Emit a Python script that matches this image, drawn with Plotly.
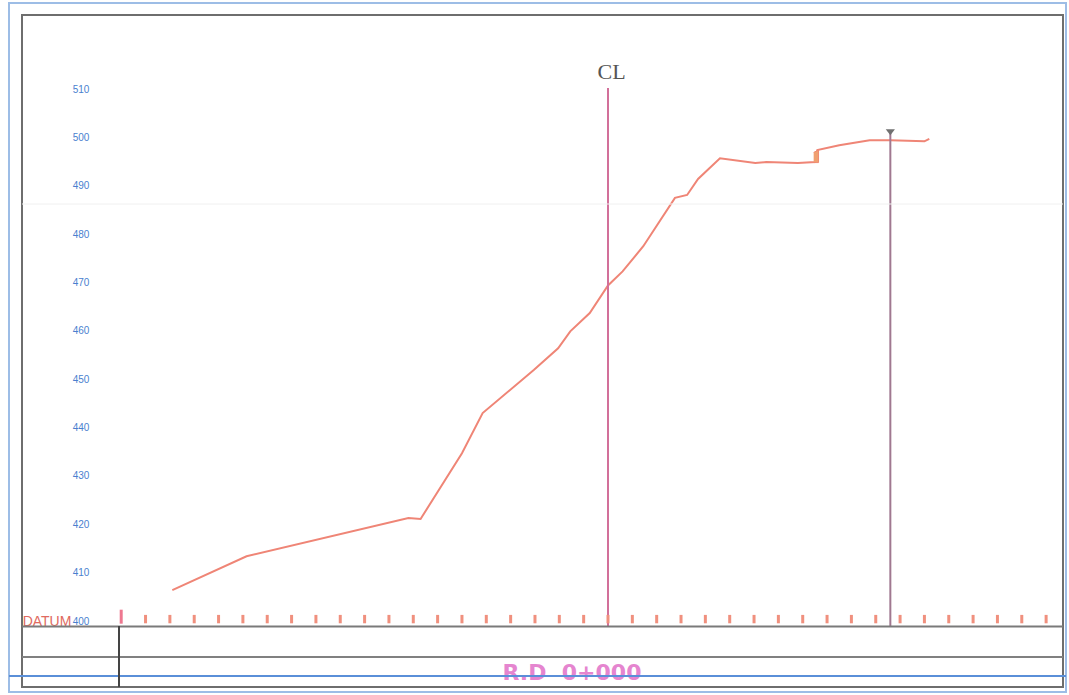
import plotly.graph_objects as go

# ---- data (offset in m from centre line, elevation in m) ----
profile_offset = [-35.8, -29.7, -16.4, -15.4, -12.0, -10.3, -6.1, -4.1, -3.1, -1.5, 0.0,
                  1.2, 2.9, 4.4, 5.5, 6.5, 7.4, 9.2, 12.1, 13.0, 15.6, 17.0, 17.2,
                  19.0, 21.5, 23.2, 26.0, 26.4]
profile_elev = [406.6, 413.6, 421.5, 421.3, 434.9, 443.2, 452.1, 456.6, 460.1, 463.9, 469.6,
                472.5, 477.7, 483.5, 487.7, 488.3, 491.6, 495.9, 494.9, 495.1, 494.9, 495.1, 497.6,
                498.6, 499.6, 499.6, 499.4, 499.9]

step_offset = [16.9, 17.3, 17.3, 16.9]
step_elev = [495.0, 495.0, 497.6, 497.1]

tick_offsets = list(range(-40, 37, 2))
datum_elev = 400
y_tick_values = [400, 410, 420, 430, 440, 450, 460, 470, 480, 490, 500, 510]

cl_offset = 0.0
cl_top = 510.4
wl_offset = 23.2
wl_elev = 501.1
chainage_label = "R.D  0+000"

W, H = 1069, 695
# pixel mapping of the drawing (full-bleed plot area)
PX_PER_M = 12.17
CL_PX = 608
PX_PER_EL = 4.836
DATUM_PY = 622

x_range = [(0 - CL_PX) / PX_PER_M, (W - CL_PX) / PX_PER_M]
y_range = [datum_elev - (H - DATUM_PY) / PX_PER_EL, datum_elev + DATUM_PY / PX_PER_EL]


def xd(px):
    return (px - CL_PX) / PX_PER_M


def yd(py):
    return datum_elev + (DATUM_PY - py) / PX_PER_EL


fig = go.Figure()

# profile line
fig.add_trace(go.Scatter(x=profile_offset, y=profile_elev, mode="lines",
                         line=dict(color="#ef8576", width=2), hoverinfo="skip"))
fig.add_trace(go.Scatter(x=step_offset, y=step_elev, mode="lines", fill="toself",
                         fillcolor="#f0a070", line=dict(color="#ef8a70", width=1),
                         hoverinfo="skip"))

# centre line and water level line
fig.add_trace(go.Scatter(x=[cl_offset, cl_offset], y=[yd(626), cl_top], mode="lines",
                         line=dict(color="#d2709a", width=2), hoverinfo="skip"))
fig.add_trace(go.Scatter(x=[wl_offset, wl_offset], y=[yd(626), wl_elev], mode="lines",
                         line=dict(color="#a07890", width=2), hoverinfo="skip"))
fig.add_trace(go.Scatter(x=[wl_offset], y=[wl_elev + 0.4], mode="markers",
                         marker=dict(symbol="triangle-down", size=8, color="#707070"),
                         hoverinfo="skip"))

# datum tick marks
fig.add_trace(go.Scatter(x=tick_offsets[1:], y=[datum_elev + 0.6] * (len(tick_offsets) - 1),
                         mode="markers",
                         marker=dict(symbol="line-ns", size=6,
                                     line=dict(color="#f0907e", width=3)),
                         hoverinfo="skip"))
fig.add_trace(go.Scatter(x=tick_offsets[:1], y=[datum_elev + 1.1],
                         mode="markers",
                         marker=dict(symbol="line-ns", size=10,
                                     line=dict(color="#ee7890", width=3)),
                         hoverinfo="skip"))

# elevation labels
fig.add_trace(go.Scatter(x=[xd(81)] * len(y_tick_values), y=y_tick_values, mode="text",
                         text=[str(v) for v in y_tick_values],
                         textfont=dict(family="Liberation Sans", size=10, color="#4a7fcf"),
                         hoverinfo="skip"))

# CL label
fig.add_trace(go.Scatter(x=[cl_offset + 0.3], y=[yd(73)], mode="text", text=["CL"],
                         textfont=dict(family="Liberation Serif", size=22, color="#555555"),
                         hoverinfo="skip"))

# DATUM label
fig.add_trace(go.Scatter(x=[xd(47)], y=[yd(622)], mode="text", text=["DATUM"],
                         textfont=dict(family="Liberation Sans", size=14, color="#e06a60"),
                         hoverinfo="skip"))

# chainage label
fig.add_trace(go.Scatter(x=[xd(572)], y=[yd(674)], mode="text", text=[chainage_label],
                         textfont=dict(family="DejaVu Sans", size=22, color="#e585cf",
                                       weight="bold"),
                         hoverinfo="skip"))


def hl(py, x0, x1, color, width):
    return dict(type="line", xref="paper", yref="paper", x0=x0 / W, x1=x1 / W,
                y0=1 - py / H, y1=1 - py / H, line=dict(color=color, width=width))


def vl(px, y0, y1, color, width):
    return dict(type="line", xref="paper", yref="paper", x0=px / W, x1=px / W,
                y0=1 - y0 / H, y1=1 - y1 / H, line=dict(color=color, width=width))


shapes = [
    # outer light-blue frame
    dict(type="rect", xref="paper", yref="paper", x0=9 / W, x1=1066 / W,
         y0=1 - 692 / H, y1=1 - 3 / H, line=dict(color="#9dbde6", width=2)),
    # gray drawing frame
    dict(type="rect", xref="paper", yref="paper", x0=22 / W, x1=1063 / W,
         y0=1 - 687 / H, y1=1 - 15 / H, line=dict(color="#6e6e6e", width=2)),
    hl(204, 22, 1063, "#f0f0f0", 1),
    hl(626.5, 22, 1063, "#7a7a7a", 2),
    hl(657, 22, 1063, "#808080", 2),
    hl(676, 9, 1066, "#5a8fd8", 2),
    vl(119, 626, 687, "#444444", 2),
]

fig.update_layout(
    width=W, height=H,
    margin=dict(l=0, r=0, t=0, b=0),
    paper_bgcolor="white", plot_bgcolor="white",
    showlegend=False,
    xaxis=dict(range=x_range, visible=False, fixedrange=True),
    yaxis=dict(range=y_range, visible=False, fixedrange=True),
    shapes=shapes,
)

fig.write_html(
    "out.html",
    config={"displayModeBar": False},
    post_script="document.body.style.margin='0';document.body.style.overflow='hidden';",
)
